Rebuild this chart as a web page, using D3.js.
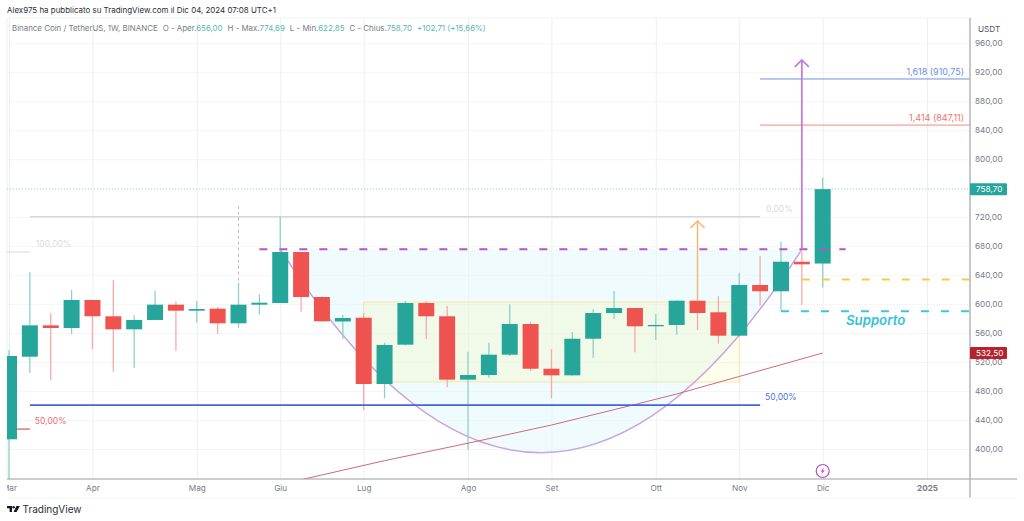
<!DOCTYPE html>
<html>
<head>
<meta charset="utf-8">
<script src="https://cdn.jsdelivr.net/npm/d3@7"></script>
<style>
  html, body { margin: 0; padding: 0; background: #fff; overflow: hidden; }
  svg { display: block; font-family: Inter, "Noto Sans", sans-serif; }
</style>
</head>
<body>
<div id="chart"></div>
<script>
// weekly candles, bar 0 = 4 Mar 2024, bar 39 = 2 Dic 2024
var opens  = [413.4, 527.4, 570.7, 567.0, 605.7, 583.2, 565.2, 578.1, 599.2, 590.9, 593.7, 573.5, 599.2, 601.5, 671.9, 609.8, 576.0, 581.2, 489.7, 544.0,
              601.5, 583.2, 495.7, 502.1, 530.2, 572.5, 510.8, 501.7, 552.2, 587.7, 594.6, 569.4, 571.2, 604.7, 588.7, 556.4, 626.4, 617.7, 658.5, 656.0];
var highs  = [536.7, 643.9, 587.3, 619.5, 605.7, 633.3, 584.5, 618.5, 603.9, 604.3, 596.4, 629.5, 613.5, 720.6, 672.0, 610.5, 585.0, 587.7, 546.7, 604.3,
              604.3, 597.4, 534.3, 546.7, 599.7, 575.7, 537.6, 561.5, 592.8, 618.1, 595.0, 586.3, 605.4, 605.0, 611.2, 643.3, 666.4, 686.1, 672.0, 774.69];
var lows   = [355.0, 504.9, 495.2, 558.7, 538.0, 506.7, 512.2, 578.0, 535.7, 574.3, 558.7, 567.4, 585.9, 601.5, 589.5, 575.3, 551.8, 453.8, 470.0, 543.0,
              551.8, 485.2, 398.6, 498.4, 528.4, 507.7, 470.0, 501.0, 526.0, 579.4, 533.5, 550.5, 557.4, 564.3, 545.6, 555.0, 597.8, 590.5, 598.8, 622.85];
var closes = [528.4, 570.7, 567.0, 605.7, 583.2, 565.2, 578.1, 599.2, 590.9, 593.2, 573.5, 599.2, 601.9, 671.9, 609.8, 576.3, 580.8, 489.7, 543.6, 601.5,
              583.2, 495.7, 502.1, 530.2, 572.5, 510.8, 501.7, 552.2, 587.7, 594.6, 569.4, 571.2, 604.7, 587.7, 556.4, 626.4, 617.7, 658.5, 654.9, 758.70];

var priceTicks = [960, 920, 880, 840, 800, 720, 680, 640, 600, 560, 520, 480, 440, 400];
var timeTickBars = [0, 4, 9, 13, 17, 22, 26, 31, 35, 39, 44];
var timeTickLabels = ["Mar", "Apr", "Mag", "Giu", "Lug", "Ago", "Set", "Ott", "Nov", "Dic", "2025"];

// moving average, read at a few bars
var maBars = [14, 18, 22, 26, 30, 32, 35, 39];
var maValues = [357.6, 383.9, 408.0, 433.1, 461.4, 475.9, 500.1, 532.5];

var cupTop = 675.6;
var cupControl = 114.3;
var rangeHigh = 602.9;
var rangeLow = 492.5;
var fibHigh = 720.6;
var fibLow = 671.9;
var fibMid = 460.7;
var fibRedMid = 427.5;
var fib1414 = 847.11;
var fib1618 = 910.75;
var lastPrice = 758.70;
var maPrice = 532.50;
var yellowLevel = 634;
var supportLevel = 590;
var orangeTip = 714.7;
var purpleTip = 937;

var width = 1024, height = 521;
var plotLeft = 7, plotRight = 970, plotTop = 18, plotBottom = 479;

var x = d3.scaleLinear().domain([0, 39]).range([9, 822.7]);
var y = d3.scaleLinear().domain([400, 960]).range([449, 43.3]);

var green = "#26a69a", red = "#ef5350";
var greenWick = "#8fd0c8", redWick = "#f8aaa8";

function fmt(v) { return d3.format(".2f")(v).replace(".", ","); }

var svg = d3.select("#chart").append("svg").attr("width", width).attr("height", height);

svg.append("clipPath").attr("id", "plot").append("rect")
  .attr("x", plotLeft).attr("y", plotTop).attr("width", plotRight - plotLeft).attr("height", plotBottom - plotTop);
svg.append("clipPath").attr("id", "timeClip").append("rect")
  .attr("x", plotLeft).attr("y", 0).attr("width", plotRight - plotLeft).attr("height", 20);

// grid
var gridY = svg.append("g").attr("transform", "translate(" + plotLeft + ",0)")
  .call(d3.axisRight(y).tickValues(priceTicks.concat([760])).tickSize(plotRight - plotLeft).tickFormat(""));
gridY.select(".domain").remove();
gridY.selectAll("line").attr("stroke", "#f4f5f7");

var gridX = svg.append("g").attr("transform", "translate(0," + plotTop + ")")
  .call(d3.axisBottom(x).tickValues(timeTickBars).tickSize(plotBottom - plotTop).tickFormat(""));
gridX.select(".domain").remove();
gridX.selectAll("line").attr("stroke", "#eceff2");

svg.append("line").attr("x1", plotLeft).attr("x2", plotRight).attr("y1", plotTop).attr("y2", plotTop).attr("stroke", "#f0f3f5");
svg.append("line").attr("x1", plotLeft).attr("x2", plotLeft).attr("y1", plotTop).attr("y2", plotBottom).attr("stroke", "#eceff2");

var plot = svg.append("g").attr("clip-path", "url(#plot)");

// cup shape
function cupPath() {
  var p = d3.path();
  p.moveTo(x(13), y(cupTop));
  p.quadraticCurveTo(x(25.5), y(cupControl), x(38), y(cupTop));
  return p.toString();
}
plot.append("path").attr("d", cupPath() + "Z").attr("fill", "#e6f8fb").attr("fill-opacity", 0.6);

// range box
plot.append("rect")
  .attr("x", x(17)).attr("width", x(35) - x(17))
  .attr("y", y(rangeHigh)).attr("height", y(rangeLow) - y(rangeHigh))
  .attr("fill", "#ffeb3b").attr("fill-opacity", 0.1)
  .attr("stroke", "#f5e6ae").attr("stroke-width", 1);

plot.append("path").attr("d", cupPath()).attr("fill", "none").attr("stroke", "#c9a5de").attr("stroke-width", 1.5);

// fib lines, left part
function hline(parent, v, b1, b2, color, w, dash) {
  return parent.append("line")
    .attr("x1", x(b1)).attr("x2", x(b2)).attr("y1", y(v)).attr("y2", y(v))
    .attr("stroke", color).attr("stroke-width", w).attr("stroke-dasharray", dash || null);
}
hline(plot, fibHigh, 1, 36, "#d5d7de", 1.5);
hline(plot, fibLow, -1, 1, "#d5d7de", 1);
hline(plot, fibRedMid, 0, 1, "#e0504f", 1.2);

// last price line
plot.append("line").attr("x1", plotLeft).attr("x2", plotRight).attr("y1", y(lastPrice)).attr("y2", y(lastPrice))
  .attr("stroke", green).attr("stroke-opacity", 0.4).attr("stroke-dasharray", "1 2");

// small dashed marker over bar 11
plot.append("line").attr("x1", x(11)).attr("x2", x(11)).attr("y1", y(closes[11])).attr("y2", y(735))
  .attr("stroke", "#c6b4cf").attr("stroke-width", 1).attr("stroke-dasharray", "3 3");

// candles
var bars = d3.range(opens.length);
plot.selectAll("line.wick").data(bars).enter().append("line")
  .attr("class", "wick")
  .attr("x1", function(d) { return x(d); })
  .attr("x2", function(d) { return x(d); })
  .attr("y1", function(d) { return y(highs[d]); })
  .attr("y2", function(d) { return y(lows[d]); })
  .attr("stroke", function(d) { return closes[d] >= opens[d] ? greenWick : redWick; })
  .attr("stroke-width", 1.3);

plot.selectAll("rect.body").data(bars).enter().append("rect")
  .attr("class", "body")
  .attr("x", function(d) { return x(d) - 8; })
  .attr("width", 16)
  .attr("y", function(d) { return y(Math.max(opens[d], closes[d])); })
  .attr("height", function(d) { return Math.max(1, Math.abs(y(opens[d]) - y(closes[d]))); })
  .attr("fill", function(d) { return closes[d] >= opens[d] ? green : red; });

// moving average
var maLine = d3.line()
  .x(function(d, i) { return x(maBars[i]); })
  .y(function(d) { return y(d); });
plot.append("path").attr("d", maLine(maValues)).attr("fill", "none").attr("stroke", "#cc6b7d").attr("stroke-width", 1);

// level lines
hline(plot, fibMid, 1, 36, "#4565d6", 1.8);
hline(plot, cupTop, 12, 40.1, "#b854c6", 2, "8 12");
hline(plot, yellowLevel, 38, 46.7, "#f4cb4e", 2, "8 12");
hline(plot, supportLevel, 37, 46.7, "#3cc8d8", 2, "8 12");
hline(plot, fib1618, 36, 46.7, "#6f8fdf", 1);
hline(plot, fib1414, 36, 46.7, "#f08a84", 1);

// arrows
function arrow(bar, from, to, color, w) {
  var p = d3.path();
  p.moveTo(x(bar), y(from));
  p.lineTo(x(bar), y(to));
  p.moveTo(x(bar) - 7, y(to) + 7);
  p.lineTo(x(bar), y(to));
  p.lineTo(x(bar) + 7, y(to) + 7);
  plot.append("path").attr("d", p.toString()).attr("fill", "none").attr("stroke", color).attr("stroke-width", w);
}
arrow(33, closes[32], orangeTip, "#f8b775", 1.5);
arrow(38, cupTop, purpleTip, "#c27ed4", 1.8);

// drawing labels
function label(px, v, dy, text, color, anchor, size) {
  return svg.append("text")
    .attr("x", px).attr("y", y(v) + dy)
    .attr("text-anchor", anchor || "start")
    .attr("font-size", size || 8.5)
    .attr("fill", color)
    .text(text);
}
label(x(1) + 6, fibLow, -5, "100,00%", "#d9dbe1");
label(x(36) + 6, fibHigh, -5, "0,00%", "#d9dbe1");
label(x(36) + 5, fibMid, -5, "50,00%", "#4f6fdc");
label(x(1) + 5, fibRedMid, -5, "50,00%", "#e8706e");
label(964, fib1618, -4, "1,618 (910,75)", "#6d8fe6", "end", 9);
label(964, fib1414, -4, "1,414 (847,11)", "#f0716c", "end", 9);

svg.append("text").attr("x", 846).attr("y", y(supportLevel) + 14)
  .attr("font-size", 13.2).attr("font-style", "italic").attr("font-weight", 600)
  .attr("fill", "#33c3d6").text("Supporto");

// time axis
var timeAxis = svg.append("g").attr("transform", "translate(0," + plotBottom + ")").attr("clip-path", "url(#timeClip)")
  .call(d3.axisBottom(x).tickValues(timeTickBars).tickSize(0).tickPadding(6)
    .tickFormat(function(d, i) { return timeTickLabels[i]; }));
timeAxis.select(".domain").remove();
timeAxis.selectAll("text").attr("font-family", "Inter").attr("font-size", 8.2).attr("fill", "#787b86")
  .attr("font-weight", function(d) { return d == 44 ? 700 : 400; });

// price axis
var priceAxis = svg.append("g").attr("transform", "translate(" + plotRight + ",0)")
  .call(d3.axisRight(y).tickValues(priceTicks).tickSize(0).tickPadding(5).tickFormat(fmt));
priceAxis.select(".domain").remove();
priceAxis.selectAll("text").attr("font-family", "Inter").attr("font-size", 8.2).attr("fill", "#787b86");

svg.append("line").attr("x1", plotLeft).attr("x2", 1017).attr("y1", plotBottom).attr("y2", plotBottom).attr("stroke", "#9a9ca3").attr("stroke-width", 1);
svg.append("line").attr("x1", plotRight).attr("x2", plotRight).attr("y1", plotTop).attr("y2", 498).attr("stroke", "#b2b4ba").attr("stroke-width", 1.5);
svg.append("line").attr("x1", plotLeft).attr("x2", 1017).attr("y1", 498).attr("y2", 498).attr("stroke", "#f3f4f6");

svg.append("text").attr("x", 978).attr("y", 32).attr("font-size", 8.2).attr("fill", "#50535e").text("USDT");

// price tags
function priceTag(v, color) {
  svg.append("rect").attr("x", plotRight).attr("y", y(v) - 6).attr("width", 37).attr("height", 12).attr("rx", 1).attr("fill", color);
  svg.append("text").attr("x", plotRight + 6).attr("y", y(v) + 3).attr("font-size", 8.2).attr("fill", "#fff").text(fmt(v));
}
priceTag(lastPrice, green);
priceTag(maPrice, "#b7222f");

// header
svg.append("text").attr("x", 7).attr("y", 13).attr("font-size", 7.95).attr("fill", "#2a2e39")
  .text("Alex975 ha pubblicato su TradingView.com il Dic 04, 2024 07:08 UTC+1");

var legendParts = [
  ["Binance Coin / TetherUS, 1W, BINANCE", "#787b86", 0],
  ["O - Aper.", "#787b86", 5],
  ["656,00", green, 0],
  ["H - Max.", "#787b86", 5],
  ["774,69", green, 0],
  ["L - Min.", "#787b86", 5],
  ["622,85", green, 0],
  ["C - Chius.", "#787b86", 5],
  ["758,70", green, 0],
  ["+102,71 (+15,66%)", green, 5]
];
svg.append("text").attr("x", 12).attr("y", 31).attr("font-size", 7.9)
  .selectAll("tspan").data(legendParts).enter().append("tspan")
  .attr("dx", function(d) { return d[2]; })
  .attr("fill", function(d) { return d[1]; })
  .attr("fill-opacity", function(d) { return d[1] == green ? 0.8 : 1; })
  .text(function(d) { return d[0]; });

// bolt marker under last bar
var bolt = svg.append("g").attr("transform", "translate(" + x(39) + ",471)");
bolt.append("circle").attr("r", 6.5).attr("fill", "#fff").attr("stroke", "#b04fc8").attr("stroke-width", 1.2);
bolt.append("path").attr("d", "M1.2,-3.6L-2,0.5H-0.2L-1.2,3.6L2,-0.5H0.2Z").attr("fill", "#b04fc8");

// footer logo
var logo = svg.append("g").attr("transform", "translate(7,506)").attr("fill", "#131722");
logo.append("path").attr("d", "M0,0H5V6H2.6V2.2H0Z");
logo.append("circle").attr("cx", 6.6).attr("cy", 1.2).attr("r", 1.2);
logo.append("path").attr("d", "M9.4,0H12.8L9.6,6H6.6Z");
svg.append("text").attr("x", 22.5).attr("y", 513).attr("font-size", 10).attr("fill", "#2a2e39").text("TradingView");
</script>
</body>
</html>
